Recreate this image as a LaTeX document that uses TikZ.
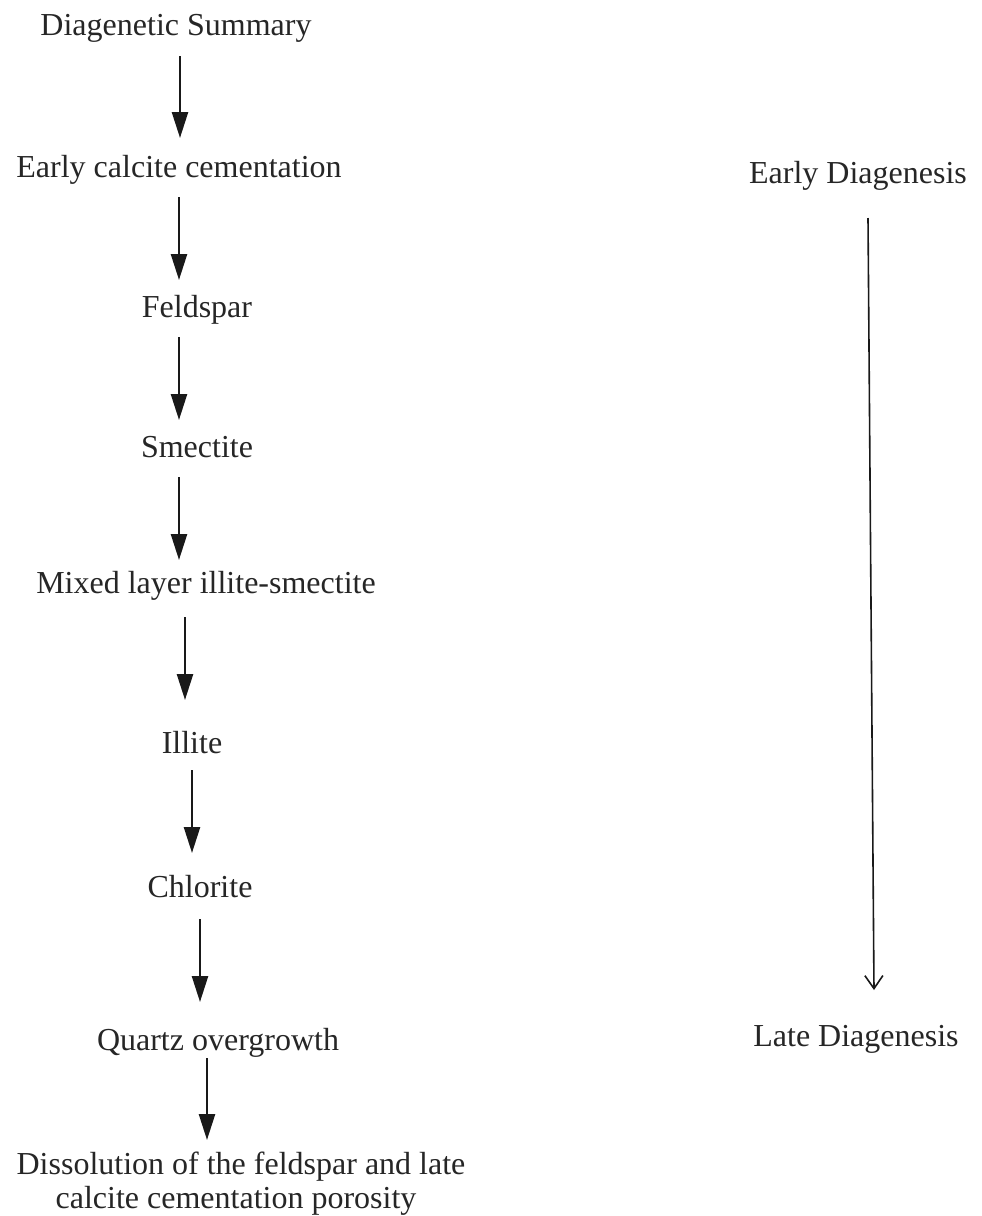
\documentclass[tikz,border=0pt]{standalone}
\usepackage{fontspec}
\setmainfont{Liberation Serif}
\usetikzlibrary{arrows.meta}
\begin{document}
\begin{tikzpicture}[x=1pt,y=-1pt,
  lbl/.style={anchor=base,inner sep=0pt,font=\fontsize{32}{36}\selectfont,text=black!85},
  flow/.style={line width=2.5pt,draw=black!90,-{Triangle[width=16pt,length=26pt]}},
  span/.style={line width=1.6pt,draw=black!90,-{Straight Barb[width=18pt,length=13pt,line width=1.6pt]}}]
\useasboundingbox[fill=white] (0,0) rectangle (982,1216);
% left column labels
\node[lbl] (ds)  at (176,35)   {Diagenetic Summary};
\node[lbl] (ecc) at (179,177)  {Early calcite cementation};
\node[lbl] (fel) at (197,317)  {Feldspar};
\node[lbl] (sme) at (197,457)  {Smectite};
\node[lbl] (mix) at (206,593)  {Mixed layer illite-smectite};
\node[lbl] (ill) at (192,753)  {Illite};
\node[lbl] (chl) at (200,897)  {Chlorite};
\node[lbl] (qo)  at (218,1050) {Quartz overgrowth};
\node[lbl] (dis1) at (241,1174) {Dissolution of the feldspar and late};
\node[lbl] (dis2) at (236,1208) {calcite cementation porosity};
% right column labels
\node[lbl] (ed) at (858,183)  {Early Diagenesis};
\node[lbl] (ld) at (856,1046) {Late Diagenesis};
% arrow end points
\coordinate (a1s) at (180,56);   \coordinate (a1e) at (180,138);
\coordinate (a2s) at (179,197);  \coordinate (a2e) at (179,280);
\coordinate (a3s) at (179,337);  \coordinate (a3e) at (179,420);
\coordinate (a4s) at (179,477);  \coordinate (a4e) at (179,560);
\coordinate (a5s) at (185,617);  \coordinate (a5e) at (185,700);
\coordinate (a6s) at (192,770);  \coordinate (a6e) at (192,853);
\coordinate (a7s) at (200,919);  \coordinate (a7e) at (200,1002);
\coordinate (a8s) at (207,1058); \coordinate (a8e) at (207,1140);
\coordinate (rs) at (868,218);   \coordinate (re) at (874,990);
\draw[flow] (a1s) -- (a1e);
\draw[flow] (a2s) -- (a2e);
\draw[flow] (a3s) -- (a3e);
\draw[flow] (a4s) -- (a4e);
\draw[flow] (a5s) -- (a5e);
\draw[flow] (a6s) -- (a6e);
\draw[flow] (a7s) -- (a7e);
\draw[flow] (a8s) -- (a8e);
\draw[span] (rs) -- (re);
\end{tikzpicture}
\end{document}
